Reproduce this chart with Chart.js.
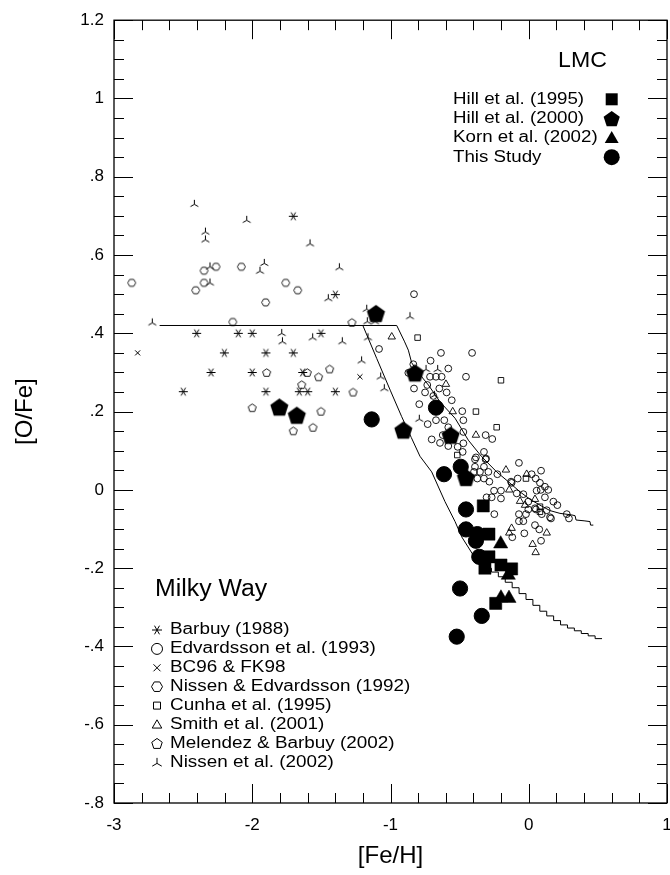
<!DOCTYPE html>
<html><head><meta charset="utf-8">
<script src="https://cdn.jsdelivr.net/npm/chart.js@4.4.0/dist/chart.umd.min.js"></script>
<style>html,body{margin:0;padding:0;background:#fff;overflow:hidden;} canvas{display:block;}</style>
</head><body>
<canvas id="c" width="670" height="875"></canvas>
<script>
// ---------- tick values & labels ----------
const xTickValues = [-3, -2, -1, 0, 1];
const xTickLabels = ['-3', '-2', '-1', '0', '1'];
const yTickValues = [-0.8, -0.6, -0.4, -0.2, 0, 0.2, 0.4, 0.6, 0.8, 1.0, 1.2];
const yTickLabels = ['-.8', '-.6', '-.4', '-.2', '0', '.2', '.4', '.6', '.8', '1', '1.2'];

// ---------- LMC ----------
const hill1995 = [[-0.329,-0.041],[-0.288,-0.113],[-0.288,-0.171],[-0.317,-0.200],[-0.201,-0.192],[-0.124,-0.202],[-0.239,-0.290]];
const hill2000 = [[-1.105,0.451],[-1.804,0.212],[-1.678,0.191],[-0.907,0.153],[-0.823,0.299],[-0.565,0.140],[-0.454,0.032]];
const korn2002 = [[-0.203,-0.138],[-0.148,-0.218],[-0.201,-0.276],[-0.143,-0.277]];
const thisStudy = [[-1.136,0.180],[-0.671,0.210],[-0.613,0.040],[-0.492,0.059],[-0.454,-0.050],[-0.454,-0.101],[-0.372,-0.113],[-0.382,-0.130],[-0.358,-0.171],[-0.497,-0.252],[-0.340,-0.322],[-0.521,-0.375]];

// ---------- Milky Way ----------
const barbuy1988 = [[-1.703,0.699],[-1.399,0.499],[-2.402,0.400],[-2.101,0.400],[-2.000,0.400],[-2.202,0.350],[-2.298,0.300],[-2.000,0.300],[-2.499,0.251],[-1.503,0.400],[-1.901,0.350],[-1.703,0.350],[-1.635,0.300],[-1.901,0.251],[-1.660,0.251],[-1.599,0.251],[-1.399,0.251]];
const edvardsson1993 = [[-1.083,0.360],[-0.830,0.500],[-0.635,0.350],[-0.410,0.350],[-0.710,0.330],[-0.582,0.310],[-0.835,0.321],[-0.871,0.299],[-0.714,0.289],[-0.671,0.289],[-0.630,0.289],[-0.454,0.289],[-0.734,0.268],[-0.830,0.259],[-0.647,0.259],[-0.750,0.249],[-0.690,0.240],[-0.594,0.249],[-0.557,0.229],[-0.792,0.219],[-0.481,0.201],[-0.473,0.178],[-0.731,0.168],[-0.671,0.178],[-0.611,0.178],[-0.582,0.160],[-0.473,0.148],[-0.312,0.140],[-0.264,0.130],[-0.702,0.129],[-0.642,0.120],[-0.622,0.140],[-0.582,0.112],[-0.514,0.110],[-0.473,0.119],[-0.478,0.097],[-0.324,0.097],[-0.382,0.083],[-0.309,0.080],[-0.389,0.078],[-0.312,0.078],[-0.389,0.059],[-0.324,0.059],[-0.396,0.046],[-0.353,0.046],[-0.292,0.046],[-0.227,0.040],[-0.071,0.069],[-0.372,0.029],[-0.324,0.029],[-0.285,0.021],[-0.080,0.029],[0.021,0.040],[0.089,0.049],[0.050,0.029],[-0.124,0.018],[0.081,0.018],[0.117,0.008],[0.141,0.000],[-0.251,-0.002],[-0.201,-0.002],[0.057,-0.002],[-0.201,-0.022],[-0.305,-0.019],[-0.268,-0.019],[-0.087,-0.009],[-0.039,-0.011],[-0.003,-0.030],[0.117,-0.019],[0.178,-0.030],[0.207,-0.039],[0.045,-0.047],[0.130,-0.052],[-0.249,-0.062],[-0.071,-0.062],[-0.020,-0.062],[0.094,-0.062],[0.275,-0.062],[0.291,-0.073],[0.161,-0.073],[-0.071,-0.080],[-0.039,-0.080],[0.045,-0.090],[0.076,-0.101],[-0.032,-0.111],[-0.119,-0.121],[0.089,-0.130],[-0.128,0.021],[0.087,0.000],[0.154,-0.070],[-0.003,-0.050],[0.052,-0.050]];
const bc96fk98 = [[-2.829,0.350],[-1.221,0.289]];
const nissenEdv1992 = [[-2.872,0.529],[-2.349,0.560],[-2.262,0.570],[-2.079,0.570],[-2.349,0.529],[-2.409,0.510],[-1.758,0.529],[-1.671,0.510],[-1.903,0.479],[-2.141,0.429]];
const cunha1995 = [[-0.804,0.389],[-0.201,0.280],[-0.382,0.200],[-0.232,0.160],[-0.517,0.089],[-0.020,0.029],[0.081,-0.043],[0.081,-0.056]];
const smith2001 = [[-0.991,0.391],[-0.599,0.270],[-0.550,0.200],[-0.382,0.140],[-0.165,0.051],[-0.015,0.040],[-0.141,0.000],[-0.063,-0.029],[0.045,-0.024],[-0.124,-0.098],[-0.141,-0.110],[0.130,-0.110],[0.028,-0.139],[0.050,-0.160],[-0.027,-0.039]];
const melendez2002 = [[-1.896,0.300],[-1.602,0.300],[-1.520,0.289],[-1.440,0.309],[-1.642,0.269],[-1.271,0.250],[-2.000,0.210],[-1.503,0.201],[-1.703,0.151],[-1.561,0.160],[-1.279,0.428]];
const nissen2002 = [[-2.419,0.732],[-2.040,0.691],[-2.339,0.661],[-2.339,0.641],[-1.582,0.631],[-1.913,0.581],[-1.944,0.561],[-2.306,0.572],[-2.306,0.531],[-1.450,0.491],[-1.370,0.570],[-2.723,0.429],[-1.787,0.402],[-1.782,0.381],[-1.563,0.391],[-1.349,0.381],[-1.172,0.464],[-1.168,0.432],[-1.112,0.432],[-1.163,0.391],[-1.209,0.332],[-1.071,0.291],[-1.045,0.261],[-0.859,0.445],[-0.792,0.183],[-0.743,0.310],[-0.659,0.310],[-0.683,0.244]];

// ---------- model curves ----------
const modelA = [[-2.67,0.42],[-1.20,0.42],[-1.10,0.336],[-1.00,0.253],[-0.919,0.187],[-0.85,0.134],[-0.787,0.086],[-0.702,0.046],[-0.606,-0.030],[-0.533,-0.081],[-0.485,-0.120],[-0.401,-0.167],[-0.27,-0.200]];
const modelAsteps = [[-0.27,-0.200],[-0.22,-0.210],[-0.17,-0.222],[-0.12,-0.236],[-0.07,-0.250],[-0.02,-0.265],[0.03,-0.280],[0.08,-0.295],[0.13,-0.310],[0.18,-0.322],[0.23,-0.334],[0.28,-0.345],[0.33,-0.353],[0.38,-0.360],[0.43,-0.367],[0.48,-0.373],[0.53,-0.380]];
const modelB = [[-2.42,0.42],[-0.955,0.42],[-0.90,0.38],[-0.871,0.357],[-0.847,0.325],[-0.80,0.300],[-0.726,0.268],[-0.642,0.225],[-0.533,0.183],[-0.437,0.127],[-0.341,0.085],[-0.232,0.046],[-0.148,0.021],[-0.063,-0.005],[0.009,-0.024],[0.081,-0.039],[0.154,-0.053],[0.226,-0.060],[0.311,-0.064],[0.335,-0.066],[0.342,-0.077],[0.40,-0.079],[0.443,-0.081],[0.447,-0.090],[0.467,-0.090]];

const toXY = arr => arr.map(p => ({x: p[0], y: p[1]}));

// ---------- marker drawing ----------
function polyPath(ctx, x, y, r, n, startAng) {
  ctx.beginPath();
  for (let i = 0; i < n; i++) {
    const a = startAng + i * 2 * Math.PI / n;
    const px = x + r * Math.cos(a), py = y + r * Math.sin(a);
    if (i === 0) ctx.moveTo(px, py); else ctx.lineTo(px, py);
  }
  ctx.closePath();
}
const M = {
  circle(ctx, x, y, r, fill) { ctx.beginPath(); ctx.arc(x, y, r, 0, 2*Math.PI); fill ? ctx.fill() : ctx.stroke(); },
  square(ctx, x, y, r, fill) { ctx.beginPath(); ctx.rect(x-r, y-r, 2*r, 2*r); fill ? ctx.fill() : ctx.stroke(); },
  triangle(ctx, x, y, r, fill) { polyPath(ctx, x, y + r*0.15, r, 3, -Math.PI/2); fill ? ctx.fill() : ctx.stroke(); },
  pentagon(ctx, x, y, r, fill) { polyPath(ctx, x, y + r*0.1, r, 5, -Math.PI/2); fill ? ctx.fill() : ctx.stroke(); },
  hexagon(ctx, x, y, r, fill) { polyPath(ctx, x, y, r, 6, 0); fill ? ctx.fill() : ctx.stroke(); },
  cross(ctx, x, y, r) { ctx.beginPath(); ctx.moveTo(x-r,y-r); ctx.lineTo(x+r,y+r); ctx.moveTo(x+r,y-r); ctx.lineTo(x-r,y+r); ctx.stroke(); },
  tristar(ctx, x, y, r) {
    ctx.beginPath();
    [-Math.PI/2, Math.PI/6, 5*Math.PI/6].forEach(a => { ctx.moveTo(x, y + r*0.2); ctx.lineTo(x + r*Math.cos(a), y + r*0.2 + r*Math.sin(a)); });
    ctx.stroke();
  },
  asterisk(ctx, x, y, r) {
    ctx.beginPath();
    [0, Math.PI/3, 2*Math.PI/3].forEach(a => { ctx.moveTo(x - r*Math.cos(a), y - r*Math.sin(a)); ctx.lineTo(x + r*Math.cos(a), y + r*Math.sin(a)); });
    ctx.stroke();
  }
};
function makeMarker(kind, r, fill, lw) {
  const size = Math.ceil(2*r + 4) | 1;
  const cv = document.createElement('canvas');
  cv.width = size; cv.height = size;
  const c = cv.getContext('2d');
  c.strokeStyle = '#000'; c.fillStyle = '#000'; c.lineWidth = lw || 1;
  M[kind](c, size/2, size/2, r, fill);
  return cv;
}
const mkHexagon = makeMarker('hexagon', 4, false, 0.9);
const mkPentagon = makeMarker('pentagon', 4.2, false, 0.9);
const mkTristar = makeMarker('tristar', 4.5, false, 1);
const mkAsterisk = makeMarker('asterisk', 4.5, false, 1);
const mkBigPentagon = makeMarker('pentagon', 9.5, true, 1);

// ---------- chart ----------
const lineDs = (data, stepped) => ({type: 'line', data: toXY(data), showLine: true, borderColor: '#000', borderWidth: 1, pointRadius: 0, fill: false, stepped: stepped || false, tension: 0});
const ptDs = (data, style, radius, fill, bw) => ({data: toXY(data), pointStyle: style, pointRadius: radius, borderColor: '#000', backgroundColor: fill ? '#000' : 'rgba(0,0,0,0)', borderWidth: bw, showLine: false});

const datasets = [
  ptDs(thisStudy, 'circle', 7.6, true, 1),
  ptDs(hill2000, mkBigPentagon, 9, true, 0),
  ptDs(hill1995, 'rect', 8.6, true, 0.5),
  ptDs(korn2002, 'triangle', 8.2, true, 0.5),
  ptDs(edvardsson1993, 'circle', 3.4, false, 0.9),
  ptDs(cunha1995, 'rect', 3.9, false, 0.9),
  ptDs(smith2001, 'triangle', 4.3, false, 0.9),
  ptDs(bc96fk98, 'crossRot', 3.6, false, 1),
  ptDs(nissenEdv1992, mkHexagon, 4, false, 0),
  ptDs(melendez2002, mkPentagon, 4, false, 0),
  ptDs(nissen2002, mkTristar, 4, false, 0),
  ptDs(barbuy1988, mkAsterisk, 4, false, 0),
  lineDs(modelA),
  lineDs(modelAsteps, 'after'),
  lineDs(modelB)
];

function sText(ctx, text, x, y, size, sx, align) {
  ctx.save();
  ctx.translate(x, y); ctx.scale(sx, 1);
  ctx.font = size + 'px "Liberation Sans", Arial, sans-serif';
  ctx.textAlign = align || 'left'; ctx.textBaseline = 'middle'; ctx.fillStyle = '#000';
  ctx.fillText(text, 0, 0);
  ctx.restore();
}

const decor = {
  id: 'decor',
  afterDraw(chart) {
    const ctx = chart.ctx, xs = chart.scales.x, ys = chart.scales.y;
    const L = xs.left, R = xs.right, T = ys.top, B = ys.bottom;
    ctx.save();
    ctx.strokeStyle = '#000'; ctx.lineWidth = 1.3;
    ctx.strokeRect(L, T, R - L, B - T);
    ctx.lineWidth = 1;
    ctx.beginPath();
    for (let i = 0; i <= 20; i++) {
      const v = -3 + i * 0.2, px = Math.round(xs.getPixelForValue(v)) + 0.5;
      const len = (i % 5 === 0) ? 19 : 10;
      ctx.moveTo(px, B); ctx.lineTo(px, B - len);
      ctx.moveTo(px, T); ctx.lineTo(px, T + len);
    }
    for (let i = 0; i <= 40; i++) {
      const v = -0.8 + i * 0.05, py = Math.round(ys.getPixelForValue(v)) + 0.5;
      const len = (i % 4 === 0) ? 19 : 10;
      ctx.moveTo(L, py); ctx.lineTo(L + len, py);
      ctx.moveTo(R, py); ctx.lineTo(R - len, py);
    }
    ctx.stroke();

    // axis titles
    ctx.save();
    ctx.translate(25, (T + B) / 2); ctx.rotate(-Math.PI / 2);
    sText(ctx, '[O/Fe]', 0, 0, 24, 1, 'center');
    ctx.restore();
    sText(ctx, '[Fe/H]', (L + R) / 2, 856, 24, 1, 'center');

    // LMC legend
    sText(ctx, 'LMC', 582.5, 61, 22, 1.05, 'center');
    const lmcRows = [['Hill et al. (1995)', 'square'], ['Hill et al. (2000)', 'pentagon'], ['Korn et al. (2002)', 'triangle'], ['This Study', 'circle']];
    const lmcSizes = {square: 6, pentagon: 8.5, triangle: 8, circle: 8};
    ctx.fillStyle = '#000';
    lmcRows.forEach((r, i) => {
      const y = 99.3 + i * 19.3;
      sText(ctx, r[0], 453, y, 16, 1.17, 'left');
      M[r[1]](ctx, 611.7, y, lmcSizes[r[1]], true);
    });

    // Milky Way legend
    sText(ctx, 'Milky Way', 155, 590, 23, 1.08, 'left');
    const mwRows = [['Barbuy (1988)', 'asterisk', 5], ['Edvardsson et al. (1993)', 'circle', 5.5], ['BC96 & FK98', 'cross', 3.5], ['Nissen & Edvardsson (1992)', 'hexagon', 5.5], ['Cunha et al. (1995)', 'square', 3.5], ['Smith et al. (2001)', 'triangle', 5.5], ['Melendez & Barbuy (2002)', 'pentagon', 5.5], ['Nissen et al. (2002)', 'tristar', 5.5]];
    ctx.lineWidth = 1;
    mwRows.forEach((r, i) => {
      const y = 630 + i * 18.9;
      M[r[1]](ctx, 157, y, r[2], false);
      sText(ctx, r[0], 170, y, 16, 1.18, 'left');
    });
    ctx.restore();
  }
};

new Chart(document.getElementById('c'), {
  type: 'scatter',
  data: {datasets},
  options: {
    responsive: false, animation: false,
    layout: {padding: {top: 20, right: 3, left: 0, bottom: 0}, autoPadding: false},
    plugins: {legend: {display: false}, tooltip: {enabled: false}},
    scales: {
      x: {
        type: 'linear', min: -3, max: 1,
        afterBuildTicks: s => { s.ticks = xTickValues.map(v => ({value: v})); },
        afterFit: s => { s.height = 72; s.paddingLeft = 0; s.paddingRight = 0; },
        grid: {display: false, drawTicks: false, tickLength: 0}, border: {display: false},
        ticks: {callback: (v, i) => xTickLabels[i], color: '#000', font: {family: '"Liberation Sans", Arial, sans-serif', size: 17}, padding: 12, maxRotation: 0, autoSkip: false}
      },
      y: {
        type: 'linear', min: -0.8, max: 1.2,
        afterBuildTicks: s => { s.ticks = yTickValues.map(v => ({value: v})); },
        afterFit: s => { s.width = 114; },
        grid: {display: false, drawTicks: false, tickLength: 0}, border: {display: false},
        ticks: {callback: (v, i) => yTickLabels[i], color: '#000', font: {family: '"Liberation Sans", Arial, sans-serif', size: 17}, padding: 10, autoSkip: false}
      }
    }
  },
  plugins: [decor]
});
</script>
</body></html>
